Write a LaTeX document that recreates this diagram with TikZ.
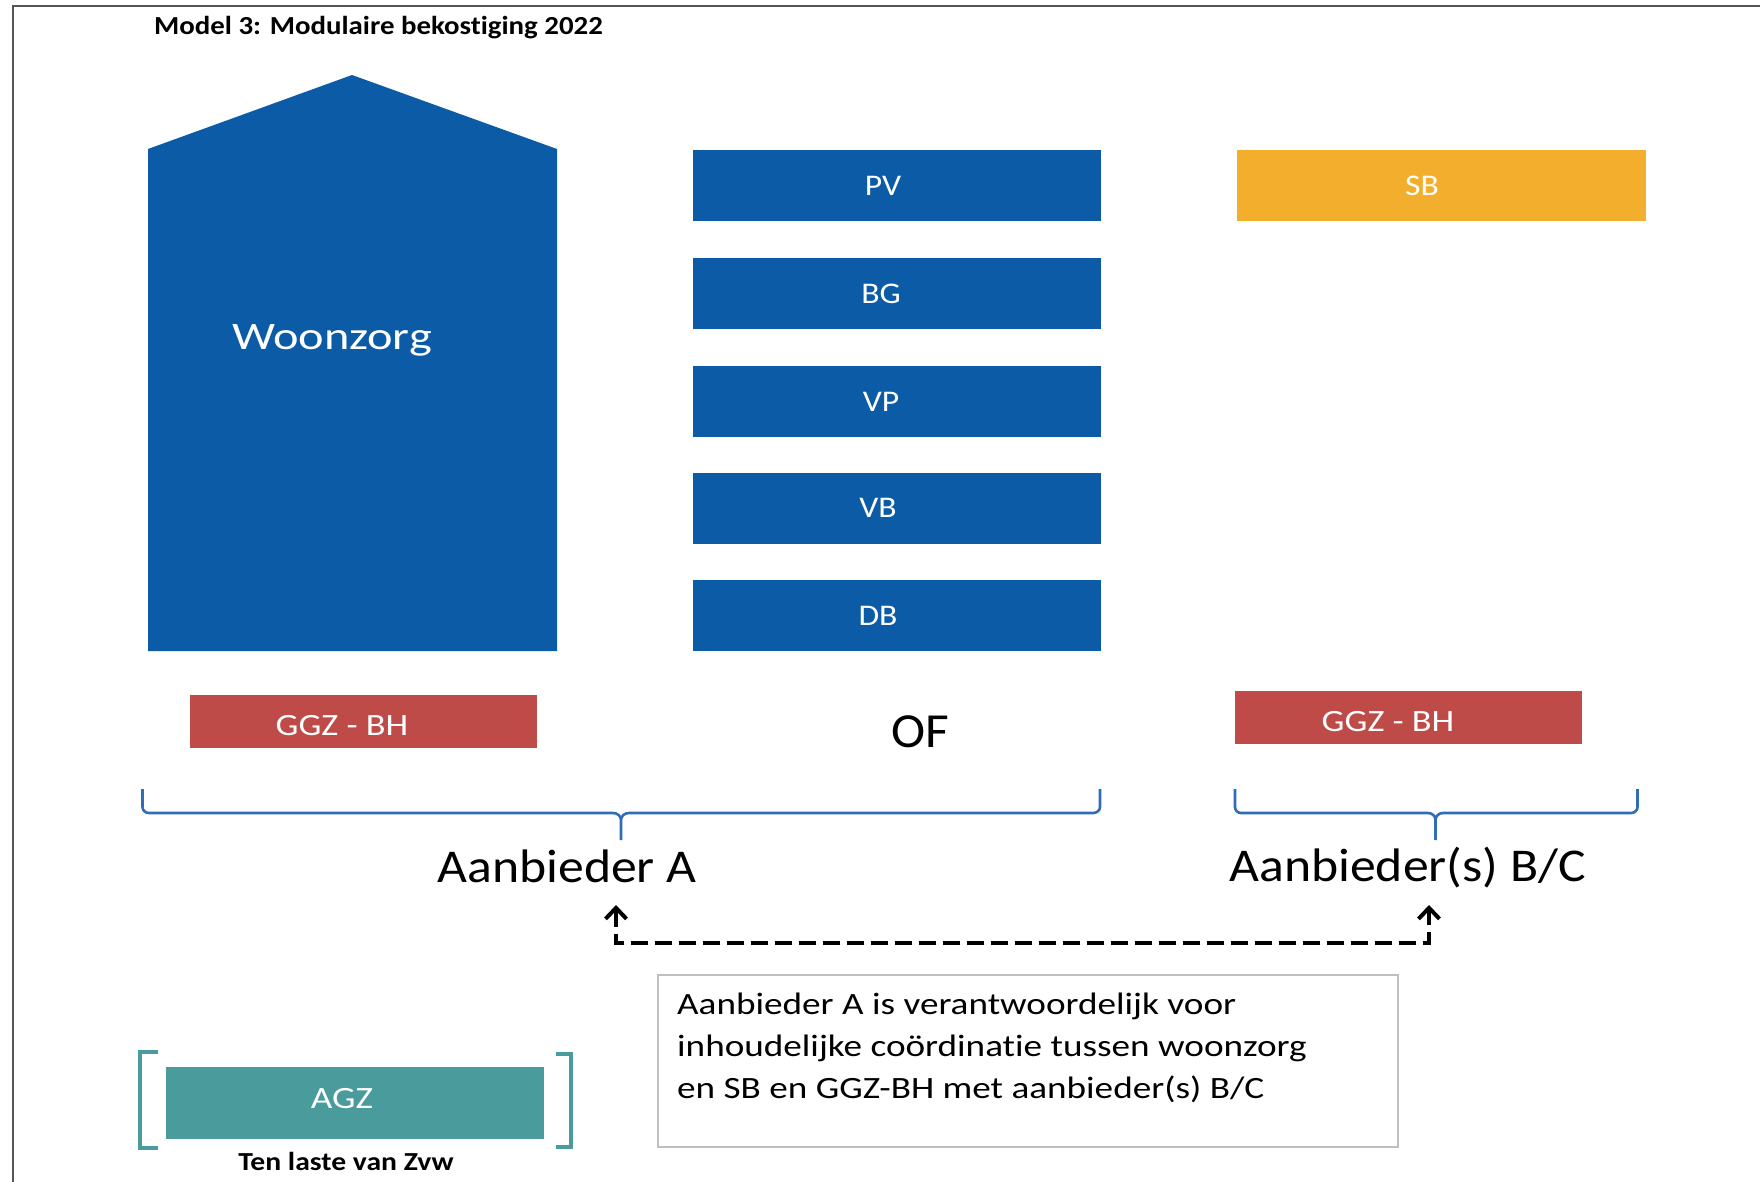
\documentclass[tikz,border=0pt]{standalone}
\usepackage{fontspec}
\setmainfont[Ligatures=NoCommon]{Carlito}
\usetikzlibrary{arrows.meta}
\definecolor{wblue}{HTML}{0C5BA6}
\definecolor{worange}{HTML}{F2AE2C}
\definecolor{wred}{HTML}{BE4B48}
\definecolor{wteal}{HTML}{4A9B9B}
\definecolor{wbrace}{HTML}{2F6EB5}
\definecolor{wframe}{HTML}{555555}
\newcommand{\fst}[2]{\fontsize{#1}{#1}\selectfont\addfontfeature{FakeStretch=#2}}
\newcommand{\notefont}{\fontsize{31}{42}\selectfont\addfontfeature{FakeStretch=1.2}}
\begin{document}
\begin{tikzpicture}[x=1pt,y=-1pt,
  barbox/.style={minimum width=408.5pt, minimum height=71pt, inner sep=0pt, anchor=north west},
  ggzbox/.style={fill=wred, minimum width=346.5pt, minimum height=53pt, inner sep=0pt, anchor=north west},
  bartext/.style={text=white, font=\fst{30}{1.12}, inner sep=0pt},
  ggztext/.style={text=white, font=\fst{31}{1.17}, inner sep=0pt},
  bigtext/.style={text=black, font=\fst{47}{1.1}, inner sep=0pt},
  bracestyle/.style={draw=wbrace, line width=2.6pt},
  bracketstyle/.style={draw=wteal, line width=4.5pt},
  linkarrow/.style={draw=black, line width=4.5pt, dash pattern=on 17pt off 7pt, {Straight Barb[length=11pt,width=21pt,line width=4pt]}-{Straight Barb[length=11pt,width=21pt,line width=4pt]}}
]
\useasboundingbox (0,0) rectangle (1760,1182);
\fill[white] (0,0) rectangle (1760,1182);
% frame
\draw[wframe, line width=2.5pt] (13,1190) -- (13,6) -- (1770,6);
% title
\node[anchor=west, inner sep=0pt, font=\bfseries\fst{26}{1.11}] (title) at (154,27.5) {Model 3: Modulaire bekostiging 2022};
% house
\fill[wblue] (148,651) -- (148,149) -- (352,75) -- (557,149) -- (557,651) -- cycle;
\node[text=white, font=\fst{39}{1.24}, inner sep=0pt] (woon) at (332,340.5) {Woonzorg};
% middle bars
\node[barbox, fill=wblue] (pv) at (692.5,150) {};
\node[barbox, fill=wblue] (bg) at (692.5,258) {};
\node[barbox, fill=wblue] (vp) at (692.5,366) {};
\node[barbox, fill=wblue] (vb) at (692.5,473) {};
\node[barbox, fill=wblue] (db) at (692.5,580) {};
\node[bartext] (pvt) at (883,186) {PV};
\node[bartext] (bgt) at (881,294) {BG};
\node[bartext] (vpt) at (881,402) {VP};
\node[bartext] (vbt) at (878,508) {VB};
\node[bartext] (dbt) at (878,616) {DB};
% SB
\node[barbox, fill=worange] (sb) at (1237,150) {};
\node[bartext] (sbt) at (1422,186) {SB};
% GGZ
\node[ggzbox] (ggzl) at (190,695) {};
\node[ggztext] (ggzlt) at (342,726) {GGZ - BH};
\node[ggzbox] (ggzr) at (1235,691) {};
\node[ggztext] (ggzrt) at (1388,722) {GGZ - BH};
% OF
\node[text=black, font=\fst{49}{1.05}, inner sep=0pt] (of) at (920,732) {OF};
% braces
\draw[bracestyle] (142.5,789) -- (142.5,807) to[out=-90,in=180] (149,813) -- (613,813) to[out=0,in=90] (621,820) -- (621,840)
  (621,820) to[out=90,in=180] (629,813) -- (1093,813) to[out=0,in=-90] (1100,807) -- (1100,789);
\draw[bracestyle] (1235,789) -- (1235,807) to[out=-90,in=180] (1241,813) -- (1428,813) to[out=0,in=90] (1435.5,820) -- (1435.5,840)
  (1435.5,820) to[out=90,in=180] (1443,813) -- (1631,813) to[out=0,in=-90] (1637.5,807) -- (1637.5,789);
% provider labels
\node[bigtext] (aa) at (567,866.5) {Aanbieder A};
\node[bigtext] (abc) at (1407.5,867.5) {Aanbieder(s) B/C};
% dashed link
\coordinate (la) at (616,905);
\coordinate (lb) at (1429,905);
\draw[linkarrow] (la) -- (616,943) -- (1429,943) -- (lb);
% note box
\node[draw=black!25, line width=1.5pt, minimum width=740pt, minimum height=172pt, inner sep=0pt, anchor=north west] (note) at (657,974) {};
\node[anchor=north west, inner sep=0pt, align=left, font=\notefont] (notet) at (677,993)
  {Aanbieder A is verantwoordelijk voor\\inhoudelijke coördinatie tussen woonzorg\\en SB en GGZ-BH met aanbieder(s) B/C};
% AGZ
\node[fill=wteal, minimum width=378pt, minimum height=72pt, inner sep=0pt, anchor=north west] (agz) at (166,1067) {};
\node[text=white, font=\fst{31}{1.2}, inner sep=0pt] (agzt) at (342,1099) {AGZ};
\draw[bracketstyle] (158,1052) -- (140,1052) -- (140,1148) -- (158,1148);
\draw[bracketstyle] (556,1054) -- (571,1054) -- (571,1147) -- (556,1147);
\node[inner sep=0pt, font=\bfseries\fst{26}{1.14}] (zvw) at (346,1161) {Ten laste van Zvw};
\end{tikzpicture}
\end{document}
